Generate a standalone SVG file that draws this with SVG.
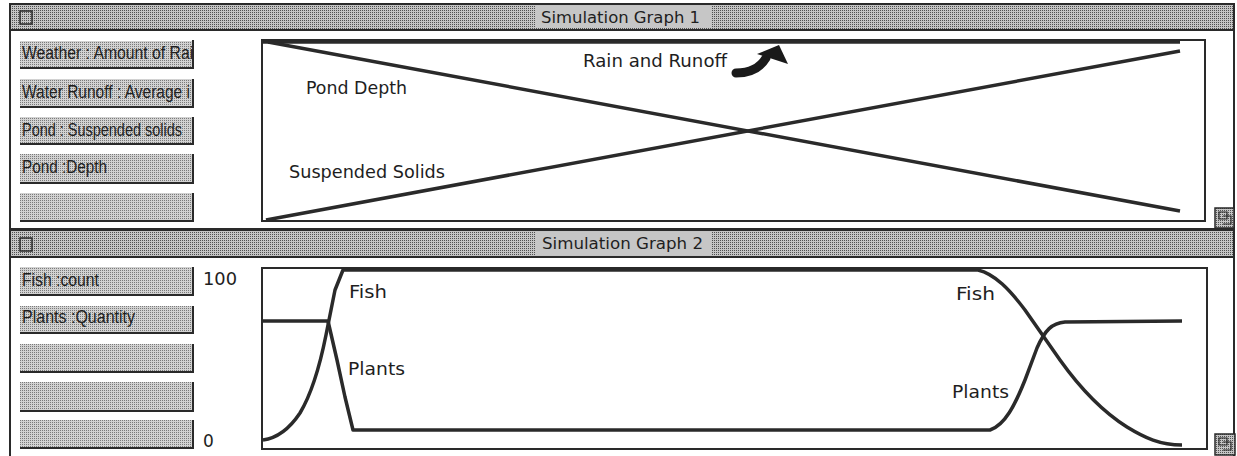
<svg xmlns="http://www.w3.org/2000/svg" width="1237" height="456" viewBox="0 0 1237 456">
<defs>
<pattern id="dots" width="2" height="2" patternUnits="userSpaceOnUse"><rect width="2" height="2" fill="#c4c4c4"/><rect width="1" height="1" fill="#505050"/></pattern>
<pattern id="btn" width="2" height="2" patternUnits="userSpaceOnUse"><rect width="2" height="2" fill="#d2d2d2"/><rect width="1" height="1" fill="#7a7a7a"/></pattern>
<clipPath id="bclip"><rect x="19" y="0" width="173" height="456"/></clipPath>
</defs>
<style>
.win{fill:#fff;stroke:#2a2a2a;stroke-width:2}
.tbar{fill:url(#dots);stroke:#2a2a2a;stroke-width:2}
.tbg{fill:#c6c6c6}
.ttl{font-family:"DejaVu Sans",sans-serif;font-size:16px;fill:#1e1e1e}
.close{fill:url(#dots);stroke:#2a2a2a;stroke-width:1.5}
.bfill{fill:url(#btn)}
.bedge{fill:none;stroke:#2a2a2a;stroke-width:2}
.btxt{font-family:"Liberation Sans",sans-serif;font-size:18px;fill:#1e1e1e}
.frame{fill:#fff;stroke:#2a2a2a;stroke-width:2}
.curve{fill:none;stroke:#2a2a2a;stroke-width:3.5;stroke-linejoin:round;stroke-linecap:butt}
.lbl{font-family:"DejaVu Sans",sans-serif;font-size:18px;fill:#1e1e1e}
.axis{font-family:"DejaVu Sans",sans-serif;font-size:17px;fill:#1e1e1e}
.grow{fill:url(#dots);stroke:#2a2a2a;stroke-width:1.5}
</style>
<rect width="1237" height="456" fill="#fff"/>

<g id="window1">
<rect class="win" x="10" y="4" width="1224" height="225"/>
<rect class="tbar" x="10" y="4" width="1224" height="26"/>
<rect class="tbg" x="535" y="6" width="177" height="22"/>
<text class="ttl" x="541" y="23" textLength="159" lengthAdjust="spacingAndGlyphs">Simulation Graph 1</text>
<rect class="close" x="20" y="11" width="12" height="13"/>
</g>

<g id="buttons1">
<g id="btn-weather"><rect class="bfill" x="20" y="41" width="173" height="27"/><path class="bedge" d="M20,68 H193 V40"/><text class="btxt" x="22" y="59" clip-path="url(#bclip)" textLength="180" lengthAdjust="spacingAndGlyphs">Weather : Amount of Rain</text></g>
<g id="btn-runoff"><rect class="bfill" x="20" y="79" width="173" height="28"/><path class="bedge" d="M20,107 H193 V79"/><text class="btxt" x="22" y="98" clip-path="url(#bclip)" textLength="168" lengthAdjust="spacingAndGlyphs">Water Runoff : Average i</text></g>
<g id="btn-solids"><rect class="bfill" x="20" y="117" width="173" height="27"/><path class="bedge" d="M20,144 H193 V117"/><text class="btxt" x="22" y="136" textLength="160" lengthAdjust="spacingAndGlyphs">Pond : Suspended solids</text></g>
<g id="btn-depth"><rect class="bfill" x="20" y="154" width="173" height="29"/><path class="bedge" d="M20,183 H193 V154"/><text class="btxt" x="22" y="173" textLength="85" lengthAdjust="spacingAndGlyphs">Pond :Depth</text></g>
<g id="btn-empty1"><rect class="bfill" x="20" y="193" width="173" height="28"/><path class="bedge" d="M20,221 H193 V193"/></g>
</g>

<g id="graph1">
<rect class="frame" x="262" y="40" width="943" height="181"/>
<text class="lbl" x="583" y="67" textLength="144" lengthAdjust="spacingAndGlyphs">Rain and Runoff</text>
<text class="lbl" x="306" y="94" textLength="101" lengthAdjust="spacingAndGlyphs">Pond Depth</text>
<text class="lbl" x="289" y="178" textLength="156" lengthAdjust="spacingAndGlyphs">Suspended Solids</text>
<g id="arrow">
<path d="M736,73 Q757,73 766,58" fill="none" stroke="#1a1a1a" stroke-width="9" stroke-linecap="round"/>
<polygon points="779,45 757,54 788,64" fill="#1a1a1a"/>
</g>
</g>

<g id="grow1"><rect class="grow" x="1215" y="208" width="19" height="20"/><path d="M1219,212 h8 v7 h-8 z M1223,216 h8 v8 h-8" fill="none" stroke="#2a2a2a" stroke-width="1.2"/></g>

<g id="window2">
<rect class="win" x="10" y="230" width="1224" height="228"/>
<rect class="tbar" x="10" y="230" width="1224" height="27"/>
<rect class="tbg" x="535" y="232" width="177" height="23"/>
<text class="ttl" x="542" y="249" textLength="161" lengthAdjust="spacingAndGlyphs">Simulation Graph 2</text>
<rect class="close" x="20" y="238" width="12" height="13"/>
</g>

<g id="buttons2">
<g id="btn-fish"><rect class="bfill" x="20" y="267" width="173" height="28"/><path class="bedge" d="M20,295 H193 V267"/><text class="btxt" x="22" y="286" textLength="77" lengthAdjust="spacingAndGlyphs">Fish :count</text></g>
<g id="btn-plants"><rect class="bfill" x="20" y="306" width="173" height="27"/><path class="bedge" d="M20,333 H193 V306"/><text class="btxt" x="22" y="323" textLength="113" lengthAdjust="spacingAndGlyphs">Plants :Quantity</text></g>
<g id="btn-empty2"><rect class="bfill" x="20" y="344" width="173" height="28"/><path class="bedge" d="M20,372 H193 V344"/></g>
<g id="btn-empty3"><rect class="bfill" x="20" y="382" width="173" height="29"/><path class="bedge" d="M20,411 H193 V382"/></g>
<g id="btn-empty4"><rect class="bfill" x="20" y="420" width="173" height="28"/><path class="bedge" d="M20,448 H193 V420"/></g>
</g>

<g id="graph2">
<text class="axis" x="203" y="285" textLength="34" lengthAdjust="spacingAndGlyphs">100</text>
<text class="axis" x="203" y="447">0</text>
<rect class="frame" x="262" y="268" width="945" height="181"/>
<text class="lbl" x="349" y="298" textLength="38" lengthAdjust="spacingAndGlyphs">Fish</text>
<text class="lbl" x="348" y="375" textLength="57" lengthAdjust="spacingAndGlyphs">Plants</text>
<text class="lbl" x="956" y="300" textLength="39" lengthAdjust="spacingAndGlyphs">Fish</text>
<text class="lbl" x="952" y="398" textLength="57" lengthAdjust="spacingAndGlyphs">Plants</text>
</g>

<g id="grow2"><rect class="grow" x="1215" y="434" width="20" height="21"/><path d="M1219,438 h8 v7 h-8 z M1223,442 h8 v8 h-8" fill="none" stroke="#2a2a2a" stroke-width="1.2"/></g>

<g id="connectors">
<line class="curve" x1="262" y1="42" x2="1180" y2="42" stroke-width="4"/>
<line class="curve" x1="268" y1="42" x2="1180" y2="211"/>
<line class="curve" x1="266" y1="220" x2="1180" y2="51"/>
<path class="curve" d="M263,440 C278,438 290,428 300,413 C312,393 320,365 326,335 L335,290 L343,270 L978,270 C995,274 1010,290 1025,310 L1060,360 C1080,388 1100,410 1127,427 C1145,438 1160,445 1182,445"/>
<path class="curve" d="M263,321 L328,321 L337,360 L345,397 L353,430 L990,430 C1005,425 1015,405 1025,380 L1037,348 C1045,330 1052,323 1065,322 L1182,321"/>
</g>
</svg>
